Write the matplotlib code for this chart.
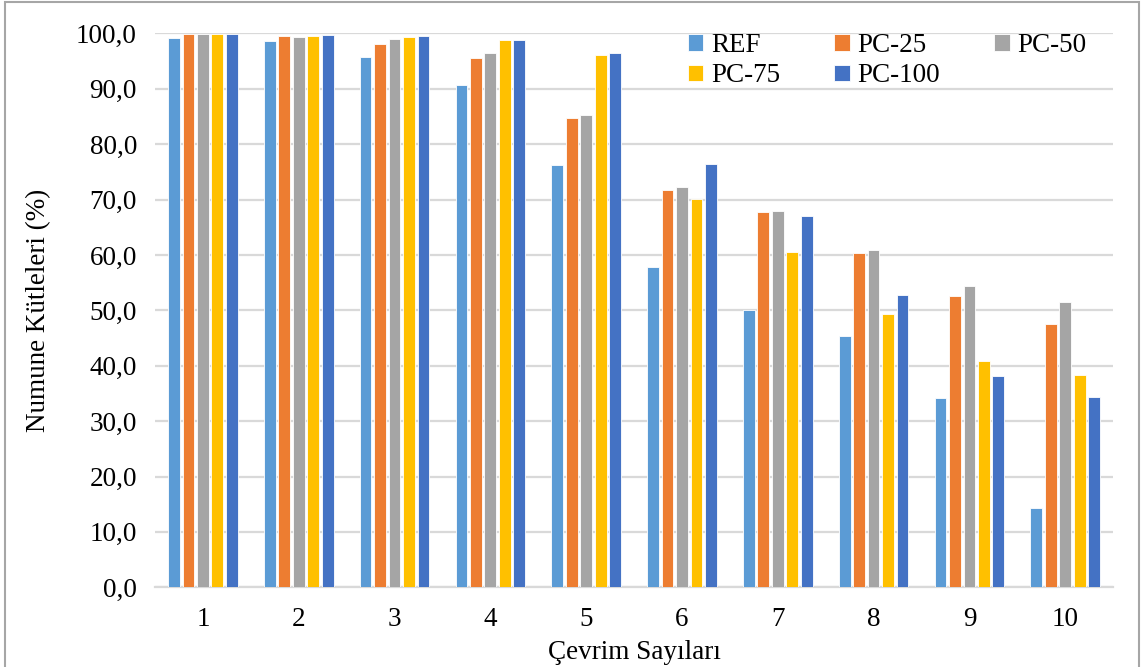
import matplotlib
matplotlib.use("Agg")
import matplotlib.pyplot as plt
import numpy as np
from matplotlib.patches import Rectangle

plt.rcParams['font.family'] = ['Liberation Serif', 'DejaVu Serif']

cycles = ["1", "2", "3", "4", "5", "6", "7", "8", "9", "10"]
series_names = ["REF", "PC-25", "PC-50", "PC-75", "PC-100"]
ref = [99.2, 98.7, 95.7, 90.7, 76.3, 57.8, 50.1, 45.4, 34.1, 14.4]
pc25 = [99.9, 99.6, 98.1, 95.5, 84.8, 71.8, 67.8, 60.3, 52.6, 47.6]
pc50 = [99.8, 99.4, 99.0, 96.4, 85.3, 72.3, 67.9, 60.9, 54.4, 51.5]
pc75 = [99.8, 99.5, 99.4, 98.8, 96.1, 70.1, 60.6, 49.4, 40.9, 38.4]
pc100 = [99.8, 99.7, 99.6, 98.8, 96.5, 76.5, 67.1, 52.7, 38.1, 34.3]
colors = ["#5B9BD5", "#ED7D31", "#A5A5A5", "#FFC000", "#4472C4"]
yticks = [0, 10, 20, 30, 40, 50, 60, 70, 80, 90, 100]

data = [ref, pc25, pc50, pc75, pc100]
FS = 19.5

fig = plt.figure(figsize=(11.44, 6.67), dpi=100)
ax = fig.add_axes([0.1355, 0.1195, 0.8375, 0.8305])

x = np.arange(len(cycles))
slot = 0.151
width = 0.123
handles = []
for i, (vals, c, name) in enumerate(zip(data, colors, series_names)):
    b = ax.bar(x + (i - 2) * slot, vals, width, color=c, label=name,
               edgecolor='white', linewidth=0.6, zorder=3)
    handles.append(b)

ax.set_xlim(-0.5, len(cycles) - 0.5)
ax.set_ylim(0, 100)
ax.set_yticks(yticks)
ax.set_yticklabels([f"{v:.1f}".replace('.', ',') for v in yticks])
ax.set_xticks(x)
ax.set_xticklabels(cycles)
ax.tick_params(axis='both', length=0, labelsize=FS, colors='black')
ax.tick_params(axis='y', pad=13)
ax.tick_params(axis='x', pad=14)
ax.yaxis.grid(True, color='#D9D9D9', linewidth=1.6, zorder=0)
ax.set_axisbelow(True)
for s in ['top', 'right', 'left']:
    ax.spines[s].set_visible(False)
ax.spines['bottom'].set_color('#D9D9D9')
ax.spines['bottom'].set_linewidth(1.6)

ax.set_ylabel("Numune Kütleleri (%)", fontsize=FS, labelpad=18)
ax.set_xlabel("Çevrim Sayıları", fontsize=FS, labelpad=6)

order = [0, 3, 1, 4, 2]
leg = ax.legend([handles[k] for k in order], [series_names[k] for k in order],
                ncol=3, frameon=False, fontsize=FS,
                loc='upper left', bbox_to_anchor=(0.556, 1.0005),
                handlelength=0.58, handleheight=0.58, handletextpad=0.28,
                columnspacing=2.0, labelspacing=0.2, borderaxespad=0,
                borderpad=0)

fig.patches.append(Rectangle((0.004, -0.01), 0.992, 1.007, transform=fig.transFigure,
                             fill=False, edgecolor='#A6A6A6', linewidth=1.5))

fig.savefig("out.png", dpi=100)
